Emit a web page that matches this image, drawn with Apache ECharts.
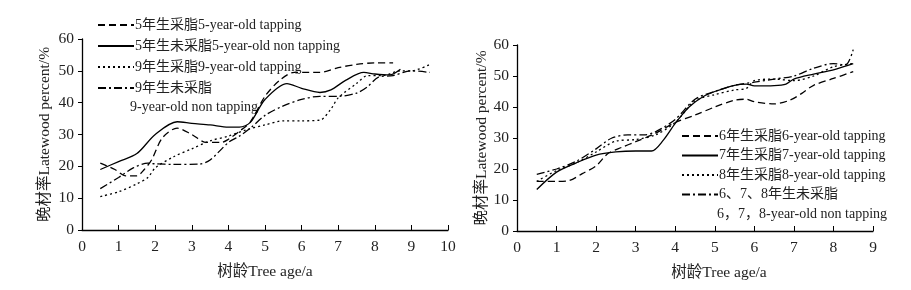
<!DOCTYPE html>
<html>
<head>
<meta charset="utf-8">
<script src="https://cdn.jsdelivr.net/npm/echarts@6/dist/echarts.min.js"></script>
<style>
  html, body { margin: 0; padding: 0; background: #fff; }
  #chart { width: 911px; height: 290px; }
</style>
</head>
<body>
<div id="chart"></div>
<script>
// 左图：5年生 / 9年生
const leftNames = ['5年生采脂5-year-old tapping', '5年生未采脂5-year-old non tapping', '9年生采脂9-year-old tapping', '9年生未采脂'];
const leftX1 = [0.5, 0.9, 1.2, 1.5, 1.7, 1.9, 2.2, 2.6, 3.0, 3.4, 3.8, 4.0, 4.3, 4.6, 5.0, 5.4, 5.8, 6.5, 7.0, 7.5, 8.0, 8.5];
const leftY1 = [21, 19, 17, 17, 19, 22, 29, 32, 30, 27.5, 27.5, 28.5, 31, 34, 42, 47, 49.5, 49.5, 51, 52, 52.5, 52.5];
const leftX2 = [0.5, 1, 1.5, 2, 2.6, 3, 3.5, 4, 4.3, 4.6, 5, 5.6, 6, 6.5, 6.8, 7.2, 7.7, 8, 8.4, 8.7];
const leftY2 = [19, 21.5, 24, 30, 34, 33.5, 33, 32.3, 32.3, 33.8, 41, 46, 44.5, 43.2, 44, 47, 49.5, 49, 48.7, 50.5];
const leftX3 = [0.5, 1, 1.5, 1.8, 2, 2.5, 3, 3.5, 4, 4.5, 5, 5.5, 6, 6.5, 6.8, 7, 7.5, 7.8, 8.2, 8.7, 9, 9.5];
const leftY3 = [10.5, 12, 14.5, 16.5, 19.5, 23, 25.5, 28, 29.5, 31.5, 33, 34.3, 34.3, 34.5, 38, 41.5, 46, 48.5, 48.5, 50, 50, 52];
const leftX4 = [0.5, 1, 1.4, 1.8, 2, 2.5, 3.2, 3.5, 4, 4.3, 4.6, 5, 5.5, 6, 6.5, 7, 7.5, 7.8, 8.1, 8.5, 9, 9.5];
const leftY4 = [13, 16.5, 19.5, 21, 20.8, 20.6, 20.7, 22, 27.5, 29.5, 32, 36, 39, 41, 42, 42, 43, 45, 48, 48.5, 50, 49.5];

// 右图：6、7、8年生
const rightNames = ['6年生采脂6-year-old tapping', '7年生采脂7-year-old tapping', '8年生采脂8-year-old tapping', '6、7、8年生未采脂'];
const rightX1 = [0.5, 1, 1.3, 1.65, 2, 2.3, 2.65, 3, 3.5, 4, 4.5, 5, 5.5, 5.8, 6, 6.5, 6.9, 7.2, 7.5, 8, 8.5];
const rightY1 = [16, 16, 16.2, 18.5, 21, 25, 27, 28.8, 31.5, 35, 37.4, 40, 42.2, 42.5, 41.7, 41, 42.2, 44.4, 47, 49.2, 51.4];
const rightX2 = [0.5, 1, 1.5, 2, 2.5, 3, 3.4, 3.7, 4, 4.35, 4.7, 5, 5.5, 5.8, 6, 6.5, 6.8, 7, 7.5, 8, 8.5];
const rightY2 = [13.4, 19, 22, 24.5, 25.5, 25.8, 25.8, 29.3, 34.7, 40, 43.3, 45, 47, 47.4, 46.8, 46.9, 47.4, 49, 50.6, 52, 54];
const rightX3 = [0.5, 1, 1.5, 2, 2.5, 3, 3.5, 4, 4.5, 5, 5.5, 5.8, 6, 6.5, 7, 7.5, 8, 8.5];
const rightY3 = [16, 19.5, 22, 25.5, 29, 29.5, 31, 35, 42, 44, 45.5, 46, 48.5, 49, 48.5, 50, 53, 54];
const rightX4 = [0.5, 1, 1.5, 2, 2.4, 2.8, 3.2, 3.5, 4, 4.5, 5, 5.5, 6, 6.5, 7, 7.5, 8, 8.3, 8.5];
const rightY4 = [18.3, 20, 22.5, 26.5, 30, 31, 31, 32, 36, 42.5, 45, 47, 48, 49, 50, 52.5, 54, 53.5, 58.5];

const FONT = '"Liberation Serif", "Noto Sans CJK SC", serif';
const AXIS_FS = 15.5;  // 坐标轴文字
const LEG_FS = 14;     // 图例文字
const dashes = ['dashed', 'solid', 'dotted', 'dashdot'];

function lineType(t) {
  if (t === 'dashed') return [7, 4];
  if (t === 'dotted') return [2, 3];
  if (t === 'dashdot') return [8, 3, 2, 3];
  return 'solid';
}

function zip(xs, ys) { return xs.map((x, i) => [x, ys[i]]); }

function makeSeries(names, xs, ys, idx) {
  return names.map((n, i) => ({
    name: n,
    type: 'line',
    xAxisIndex: idx,
    yAxisIndex: idx,
    smooth: 0.3,
    symbol: 'none',
    lineStyle: { color: '#000', width: 1.3, type: lineType(dashes[i]) },
    itemStyle: { color: '#000' },
    data: zip(xs[i], ys[i])
  }));
}

function yAxis(idx, gap) {
  return {
    gridIndex: idx, type: 'value', min: 0, max: 60, interval: 10,
    name: '晚材率Latewood percent/%', nameLocation: 'middle', nameGap: gap,
    nameTextStyle: { fontFamily: FONT, fontSize: AXIS_FS, color: '#222' },
    axisLine: { show: true, lineStyle: { color: '#000', width: 1.3 } },
    axisTick: { show: true, length: 4, lineStyle: { color: '#000' } },
    axisLabel: { fontFamily: FONT, fontSize: AXIS_FS, color: '#222', margin: 8 },
    splitLine: { show: false }
  };
}

function xAxis(idx, max, pad) {
  return {
    gridIndex: idx, type: 'value', min: 0, max: max, interval: 1,
    name: '树龄Tree age/a', nameLocation: 'middle', nameGap: 34,
    nameTextStyle: { fontFamily: FONT, fontSize: AXIS_FS, color: '#222', padding: pad },
    axisLine: { lineStyle: { color: '#000', width: 1.3 } },
    axisTick: { show: true, inside: true, length: 5, lineStyle: { color: '#000' } },
    axisLabel: { fontFamily: FONT, fontSize: AXIS_FS, color: '#222', margin: 9 },
    splitLine: { show: false }
  };
}

function legend(names, left, top, gap) {
  return {
    data: names, orient: 'vertical', left: left, top: top,
    itemWidth: 36, itemHeight: 14, itemGap: gap,
    itemStyle: { opacity: 0 },
    textStyle: { fontFamily: FONT, fontSize: LEG_FS, color: '#222', padding: [0, 0, 0, -4] }
  };
}

let chart = echarts.init(document.getElementById('chart'));
chart.setOption({
  backgroundColor: '#fff',
  animation: false,
  grid: [
    { left: 82, right: 463, top: 39, bottom: 60 },
    { left: 517, right: 38, top: 45, bottom: 59 }
  ],
  xAxis: [xAxis(0, 10, [0, 0, 0, 0]), xAxis(1, 9, [0, 0, 0, 48])],
  yAxis: [yAxis(0, 29), yAxis(1, 25)],
  legend: [legend(leftNames, 92, 13, 7), legend(rightNames, 676, 124, 5.5)],
  graphic: [
    { type: 'text', left: 130, top: 100, style: { text: '9-year-old non tapping', font: LEG_FS + 'px ' + FONT, fill: '#222' } },
    { type: 'text', left: 717, top: 207, style: { text: '6，7，8-year-old non tapping', font: LEG_FS + 'px ' + FONT, fill: '#222' } }
  ],
  series: makeSeries(leftNames, [leftX1, leftX2, leftX3, leftX4], [leftY1, leftY2, leftY3, leftY4], 0)
    .concat(makeSeries(rightNames, [rightX1, rightX2, rightX3, rightX4], [rightY1, rightY2, rightY3, rightY4], 1))
});
</script>
</body>
</html>
